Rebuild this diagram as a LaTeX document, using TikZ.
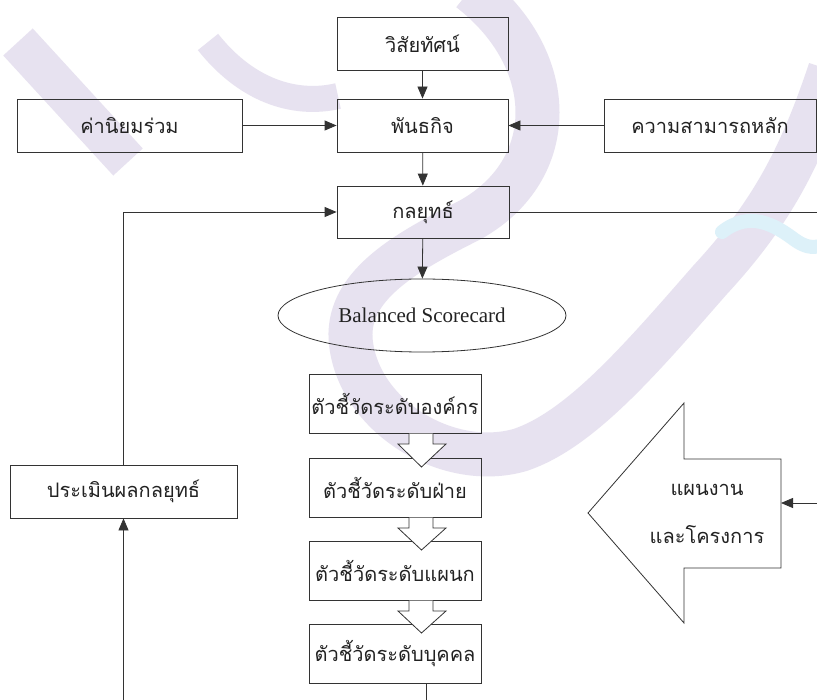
\documentclass[tikz,border=0pt]{standalone}
\usepackage{fontspec}
\setmainfont{Liberation Serif}
\newfontfamily\thaifont[Script=Thai]{Loma}
\usetikzlibrary{arrows.meta,shapes.geometric}
\definecolor{linec}{HTML}{333333}
\definecolor{textc}{HTML}{222222}
\definecolor{wmark}{HTML}{E7E2F0}
\definecolor{wcyan}{HTML}{DDF1F9}
\begin{document}
\begin{tikzpicture}[x=1pt,y=-1pt,
  box/.style={draw=linec, line width=0.8pt, inner sep=0pt, text=textc,
              font=\thaifont\fontsize{20}{24}\selectfont},
  arr/.style={draw=linec, line width=0.8pt, -{Triangle[length=12pt,width=10pt]}},
  ln/.style={draw=linec, line width=0.8pt},
  blk/.style={draw=linec, line width=0.8pt, fill=white, line join=miter},
  wm/.style={draw=wmark, line cap=butt}]
\useasboundingbox (0,0) rectangle (817,700);
\fill[white] (0,0) rectangle (817,700);

% faint background watermark
\draw[wm, line width=40pt] (18,42) -- (128,162);
\draw[wm, line width=26pt] (208,42) .. controls (250,95) and (300,105) .. (338,96);
\draw[wm, line width=44pt] (470,-10) .. controls (560,60) and (560,170) .. (470,220)
      .. controls (400,255) and (340,290) .. (352,350)
      .. controls (365,420) and (450,470) .. (520,450)
      .. controls (580,430) and (640,360) .. (710,280)
      .. controls (770,215) and (800,160) .. (830,70);
\draw[draw=wcyan, line width=14pt, line cap=round] (722,232) .. controls (750,210) and (775,225) .. (795,240) .. controls (805,247) and (812,248) .. (820,246);

% top boxes
\node[box, minimum width=171pt, minimum height=53pt] (vis) at (422.5,43.5) {วิสัยทัศน์};
\node[box, minimum width=171pt, minimum height=53pt] (mis) at (422.5,125.5) {พันธกิจ};
\node[box, minimum width=225pt, minimum height=53pt] (val) at (129.5,125.5) {ค่านิยมร่วม};
\node[box, minimum width=212pt, minimum height=53pt] (core) at (710,125.5) {ความสามารถหลัก};
\node[box, minimum width=172pt, minimum height=52pt] (str) at (423,212) {กลยุทธ์};
\node[box, minimum width=227pt, minimum height=53pt] (eval) at (123.5,491.5) {ประเมินผลกลยุทธ์};

% ellipse
\node[draw=linec, line width=0.8pt, ellipse, inner sep=0pt, minimum width=288pt, minimum height=73pt,
      text=textc, font=\fontsize{21}{24}\selectfont] (bsc) at (422,315.5) {Balanced Scorecard};

% KPI column
\node[box, minimum width=172pt, minimum height=59pt] (k1) at (395,403.5) {ตัวชี้วัดระดับองค์กร};
\node[box, minimum width=172pt, minimum height=59pt] (k2) at (395,487.5) {ตัวชี้วัดระดับฝ่าย};
\node[box, minimum width=172pt, minimum height=59pt] (k3) at (395,570.5) {ตัวชี้วัดระดับแผนก};
\node[box, minimum width=172pt, minimum height=59pt] (k4) at (395,653.5) {ตัวชี้วัดระดับบุคคล};

% hollow block arrows between KPI boxes
\foreach \yb/\yt in {433/458, 517/541, 600/624}{
  \path[blk] (409,\yb+0.6) -- (409,\yb+11) -- (398,\yb+11) -- (421.5,\yt+9)
             -- (446,\yb+11) -- (433,\yb+11) -- (433,\yb+0.6);
}

% big left arrow (plans and projects)
\path[blk] (781,459) -- (684,459) -- (684,403) -- (588,513) -- (684,623) -- (684,568) -- (781,568) -- cycle;
\node[text=textc, align=center, inner sep=0pt, font=\thaifont\fontsize{20}{48}\selectfont] (plan) at (707,514) {แผนงาน\\และโครงการ};
\coordinate (planin) at (781,503);
\coordinate (rin) at (817,503);

% connectors
\draw[arr] (vis) -- (mis);
\draw[arr] (mis) -- (str);
\draw[arr] (val) -- (mis);
\draw[arr] (core) -- (mis);
\draw[arr] (str) -- (bsc);
\coordinate (rout) at (817,212);
\draw[ln] (str.east) -- (rout);
\draw[arr] (eval.north) -- (eval.north |- str.west) -- (str.west);
\coordinate (bot1) at (123.5,700);
\draw[arr] (bot1) -- (eval.south);
\coordinate (bot2) at (426,700);
\draw[ln] (k4.south -| bot2) -- (bot2);
\draw[arr] (rin) -- (planin);
\end{tikzpicture}
\end{document}
